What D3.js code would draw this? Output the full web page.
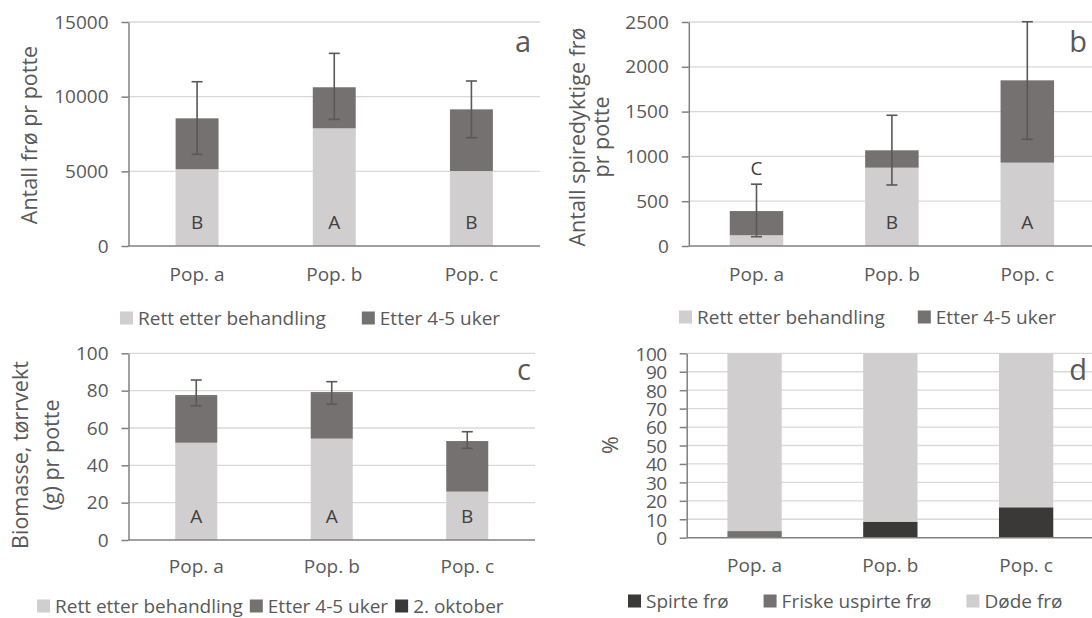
<!DOCTYPE html>
<html>
<head>
<meta charset="utf-8">
<script src="https://cdn.jsdelivr.net/npm/d3@7"></script>
<style>
  body { margin: 0; background: #fff; }
  svg { display: block; font-family: "Open Sans", sans-serif; }
</style>
</head>
<body>
<svg id="chart" width="1092" height="618"></svg>
<script>
var pops = ["Pop. a", "Pop. b", "Pop. c"];

// a: seeds per pot
var seedsRett = [5140, 7880, 5020];
var seedsEtter = [3410, 2750, 4130];
var seedsErrHi = [11000, 12900, 11050];
var seedsErrLo = [6140, 8480, 7250];
var seedsLetters = ["B", "A", "B"];
var seedsTicks = [0, 5000, 10000, 15000];

// b: viable seeds per pot
var viableRett = [120, 874, 930];
var viableEtter = [270, 194, 919];
var viableErrHi = [690, 1459, 2503];
var viableErrLo = [104, 681, 1191];
var viableLetters = ["C", "B", "A"];
var viableTicks = [0, 500, 1000, 1500, 2000, 2500];

// c: biomass
var bioRett = [52.1, 54.3, 25.9];
var bioEtter = [24.8, 24.2, 27.1];
var bioOkt = [0.6, 0.6, 0];
var bioErrHi = [85.7, 84.8, 58.0];
var bioErrLo = [71.9, 72.7, 49.1];
var bioLetters = ["A", "A", "B"];
var bioTicks = [0, 20, 40, 60, 80, 100];

// d: percent
var spirte = [0, 8.7, 16.5];
var friske = [3.6, 0, 0];
var dode = [96.4, 91.3, 83.5];
var pctTicks = [0, 10, 20, 30, 40, 50, 60, 70, 80, 90, 100];

var LIGHT = "#d0cece", MID = "#767171", DARK = "#3b3838";
var textColor = "#595959";
var svg = d3.select("#chart");

function rowsOf(keys, arrays) {
    return pops.map(function (p, i) {
        var r = {pop: p};
        keys.forEach(function (k, j) { r[k] = arrays[j][i]; });
        return r;
    });
}

function drawPanel(cfg) {
    var g = svg.append("g");
    var x = d3.scaleBand().domain(pops).range([cfg.x0, cfg.x1])
        .paddingInner(cfg.pad).paddingOuter(cfg.pad / 2);
    var y = d3.scaleLinear().domain([0, cfg.max]).range([cfg.yBottom, cfg.yTop]);

    // gridlines
    g.selectAll(".grid").data(cfg.ticks.slice(1)).enter().append("line")
        .attr("x1", cfg.x0).attr("x2", cfg.x1)
        .attr("y1", function (d) { return y(d); }).attr("y2", function (d) { return y(d); })
        .style("stroke", "#d9d9d9").style("stroke-width", 1.3);

    // stacked bars
    var series = d3.stack().keys(cfg.keys)(rowsOf(cfg.keys, cfg.values));
    g.selectAll(".layer").data(series).enter().append("g")
        .style("fill", function (d, i) { return cfg.colors[i]; })
        .selectAll("rect").data(function (d) { return d; }).enter().append("rect")
        .attr("x", function (d) { return x(d.data.pop); })
        .attr("width", x.bandwidth())
        .attr("y", function (d) { return y(d[1]); })
        .attr("height", function (d) { return y(d[0]) - y(d[1]); });

    // y axis
    var ya = g.append("g").attr("transform", "translate(" + cfg.x0 + ",0)")
        .call(d3.axisLeft(y).tickValues(cfg.ticks).tickFormat(d3.format("d"))
            .tickSize(7).tickSizeOuter(0).tickPadding(13));
    ya.select(".domain").style("stroke", "#808080").style("stroke-width", 1.5);
    ya.selectAll(".tick line").style("stroke", "#808080").style("stroke-width", 1.5);
    ya.selectAll(".tick text").style("font-size", "19px").style("fill", textColor)
        .style("font-family", "Open Sans");
    if (cfg.tight) ya.selectAll(".tick text").attr("dy", "0.36em").style("letter-spacing", "-0.5px");

    // x axis
    var xa = g.append("g").attr("transform", "translate(0," + cfg.yBottom + ")")
        .call(d3.axisBottom(x).tickSize(0).tickPadding(cfg.xPad).tickSizeOuter(0));
    xa.select(".domain").attr("d", "M" + cfg.x0 + ",0H" + cfg.x1)
        .style("stroke", "#808080").style("stroke-width", 1.5);
    xa.selectAll(".tick text").style("font-size", "19px").style("fill", textColor)
        .style("font-family", "Open Sans");

    // error bars
    if (cfg.errHi) {
        var eb = g.selectAll(".err").data(pops).enter().append("g")
            .style("stroke", "#595959").style("stroke-width", 1.6);
        eb.append("line")
            .attr("x1", function (d) { return x(d) + x.bandwidth() / 2; })
            .attr("x2", function (d) { return x(d) + x.bandwidth() / 2; })
            .attr("y1", function (d, i) { return y(cfg.errLo[i]); })
            .attr("y2", function (d, i) { return y(cfg.errHi[i]); });
        [cfg.errLo, cfg.errHi].forEach(function (arr) {
            eb.append("line")
                .attr("x1", function (d) { return x(d) + x.bandwidth() / 2 - 5.5; })
                .attr("x2", function (d) { return x(d) + x.bandwidth() / 2 + 5.5; })
                .attr("y1", function (d, i) { return y(arr[i]); })
                .attr("y2", function (d, i) { return y(arr[i]); });
        });
    }

    // significance letters
    if (cfg.letters) {
        g.selectAll(".letter").data(cfg.letters).enter().append("text")
            .text(function (d) { return d; })
            .attr("x", function (d, i) { return x(pops[i]) + x.bandwidth() / 2; })
            .attr("y", function (d, i) {
                return cfg.letterAbove && cfg.letterAbove[i] ? y(cfg.errHi[i]) - 16 : cfg.yBottom - 24;
            })
            .attr("dy", "0.36em").style("text-anchor", "middle")
            .style("font-size", "19px").style("fill", "#404040");
    }

    // panel label
    g.append("text").text(cfg.label).attr("x", cfg.labelX).attr("y", cfg.labelY)
        .style("text-anchor", "middle").style("font-size", "29px").style("fill", textColor);

    // y title
    cfg.title.forEach(function (t, i) {
        g.append("text").text(t)
            .attr("transform", "translate(" + cfg.titleX[i] + "," + cfg.titleY + ") rotate(-90)")
            .attr("dy", "0.36em").style("text-anchor", "middle")
            .style("font-size", "21.5px").style("fill", textColor);
    });

    // legend
    var lx = cfg.legendX;
    cfg.legend.forEach(function (name, i) {
        g.append("rect").attr("x", lx).attr("y", cfg.legendY - 6.5)
            .attr("width", 13).attr("height", 13).style("fill", cfg.legendColors[i]);
        var t = g.append("text").text(name).attr("x", lx + 18).attr("y", cfg.legendY)
            .attr("dy", "0.36em").style("font-size", "19px").style("fill", textColor);
        lx += 18 + t.node().getComputedTextLength() + cfg.legendGap;
    });
}

drawPanel({
    x0: 128.5, x1: 540, yBottom: 246, yTop: 22, max: 15000, ticks: seedsTicks, pad: 0.687,
    keys: ["rett", "etter"], values: [seedsRett, seedsEtter], colors: [LIGHT, MID],
    errHi: seedsErrHi, errLo: seedsErrLo, letters: seedsLetters,
    label: "a", labelX: 523, labelY: 52, xPad: 22,
    title: ["Antall frø pr potte"], titleX: [29.6], titleY: 135,
    legend: ["Rett etter behandling", "Etter 4-5 uker"], legendColors: [LIGHT, MID],
    legendX: 120, legendY: 318, legendGap: 36
});

drawPanel({
    x0: 688.8, x1: 1095, yBottom: 246, yTop: 22, max: 2500, ticks: viableTicks, pad: 0.605,
    keys: ["rett", "etter"], values: [viableRett, viableEtter], colors: [LIGHT, MID],
    errHi: viableErrHi, errLo: viableErrLo, letters: viableLetters, letterAbove: [true, false, false],
    label: "b", labelX: 1078, labelY: 52, xPad: 22,
    title: ["Antall spiredyktige frø", "pr potte"], titleX: [577, 601], titleY: 137,
    legend: ["Rett etter behandling", "Etter 4-5 uker"], legendColors: [LIGHT, MID],
    legendX: 679, legendY: 317, legendGap: 33
});

drawPanel({
    x0: 128.5, x1: 535, yBottom: 540, yTop: 353.3, max: 100, ticks: bioTicks, pad: 0.69,
    keys: ["rett", "etter", "okt"], values: [bioRett, bioEtter, bioOkt], colors: [LIGHT, MID, DARK],
    errHi: bioErrHi, errLo: bioErrLo, letters: bioLetters,
    label: "c", labelX: 524, labelY: 380, xPad: 20,
    title: ["Biomasse, tørrvekt", "(g) pr potte"], titleX: [20, 51.7], titleY: 455,
    legend: ["Rett etter behandling", "Etter 4-5 uker", "2. oktober"], legendColors: [LIGHT, MID, DARK],
    legendX: 37, legendY: 606, legendGap: 7
});

drawPanel({
    x0: 686.7, x1: 1094, yBottom: 537.7, yTop: 353.3, max: 100, ticks: pctTicks, pad: 0.6, tight: true,
    keys: ["spirte", "friske", "dode"], values: [spirte, friske, dode], colors: [DARK, MID, LIGHT],
    label: "d", labelX: 1078, labelY: 380, xPad: 21,
    title: ["%"], titleX: [610], titleY: 445,
    legend: ["Spirte frø", "Friske uspirte frø", "Døde frø"], legendColors: [DARK, MID, LIGHT],
    legendX: 628, legendY: 601, legendGap: 35
});
</script>
</body>
</html>
